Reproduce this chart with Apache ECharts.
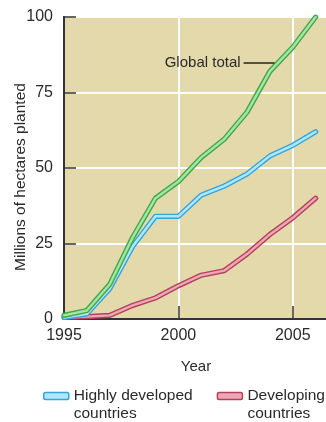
<!DOCTYPE html>
<html>
<head>
<meta charset="utf-8">
<script src="https://cdn.jsdelivr.net/npm/echarts@6/dist/echarts.min.js"></script>
<style>
html,body{margin:0;padding:0;background:#fff;}
#chart{width:326px;height:422px;}
</style>
</head>
<body>
<div id="chart"></div>
<script>
// ---- data ----
var years = [1995, 1996, 1997, 1998, 1999, 2000, 2001, 2002, 2003, 2004, 2005, 2006];
var globalTotal = [1.2, 2.8, 11.5, 27, 40, 45.5, 53.5, 59.5, 68.5, 82, 90, 100];
var developed = [0.5, 1.7, 10, 24, 34, 34, 41, 44, 48, 54, 57.5, 62];
var developing = [0.5, 0.8, 1.2, 4.5, 7, 11, 14.5, 16, 21.5, 28, 33.5, 40];
var yTicks = [0, 25, 50, 75, 100];
var xTicks = [1995, 2000, 2005];
var seriesNames = ['Global total', 'Highly developed\ncountries', 'Developing\ncountries'];
var yTitle = 'Millions of hectares planted';
var annotationLine = [[2002.85, 84.7], [2004.2, 84.7]];

function pairs(vals) { return years.map(function (y, i) { return [y, vals[i]]; }); }

var FONT = '"Liberation Sans", Arial, Helvetica, sans-serif';
var TXT = '#2a2a2a';
var C = {
  green: { out: '#43a64a', inn: '#a3e6a3' },
  blue: { out: '#35a5db', inn: '#b0e8fb' },
  red: { out: '#b63f5b', inn: '#eca8b7' }
};

function pairSeries(name, vals, col, extra) {
  var base = {
    type: 'line', data: pairs(vals), showSymbol: false, symbol: 'none',
    smooth: false, silent: true, animation: false
  };
  var outer = Object.assign({}, base, {
    name: name + ' outline',
    lineStyle: { color: col.out, width: 5.2, cap: 'round', join: 'round' },
    itemStyle: { color: col.out }
  });
  var inner = Object.assign({}, base, {
    name: name,
    lineStyle: { color: col.inn, width: 2.4, cap: 'round', join: 'round' },
    itemStyle: { color: col.inn, borderColor: col.out, borderWidth: 1.5 }
  }, extra || {});
  return [outer, inner];
}

var chart = echarts.init(document.getElementById('chart'), null, { renderer: 'canvas' });

var series = [].concat(
  pairSeries(seriesNames[2], developing, C.red),
  pairSeries(seriesNames[1], developed, C.blue),
  pairSeries(seriesNames[0], globalTotal, C.green, {
    markLine: {
      silent: true, symbol: 'none', animation: false,
      lineStyle: { color: '#222', width: 1.5, type: 'solid' },
      label: {
        show: true, position: 'start', formatter: seriesNames[0],
        color: TXT, fontSize: 15, fontFamily: FONT, distance: 3
      },
      data: [[{ coord: annotationLine[0] }, { coord: annotationLine[1] }]]
    }
  })
);

chart.setOption({
  animation: false,
  backgroundColor: '#ffffff',
  textStyle: { fontFamily: FONT },
  grid: {
    left: 64, right: -2, top: 17, bottom: 103,
    outerBoundsMode: 'none', containLabel: false,
    show: true, backgroundColor: '#e3d9aa', borderColor: '#4a4a4a', borderWidth: 2
  },
  xAxis: {
    type: 'value', min: 1995, max: 2006.54, interval: 5,
    name: 'Year', nameLocation: 'middle', nameGap: 40, nameMoveOverlap: false,
    nameTextStyle: { color: TXT, fontSize: 15, fontFamily: FONT },
    axisLine: { show: true, lineStyle: { color: '#333', width: 2 } },
    axisTick: { show: true, inside: true, length: 13, lineStyle: { color: '#333', width: 1.5 } },
    splitLine: { show: true, lineStyle: { color: '#ffffff', width: 2 } },
    axisLabel: {
      color: TXT, fontSize: 16, fontFamily: FONT, margin: 9,
      showMaxLabel: false,
      formatter: function (v) { return xTicks.indexOf(v) >= 0 ? String(v) : ''; }
    }
  },
  yAxis: {
    type: 'value', min: 0, max: 100, interval: 25,
    name: yTitle, nameLocation: 'middle', nameGap: 35, nameMoveOverlap: false,
    nameTextStyle: { color: TXT, fontSize: 15.5, fontFamily: FONT, padding: [0, 18, 0, 0] },
    axisLine: { show: true, lineStyle: { color: '#333', width: 2 } },
    axisTick: { show: true, inside: true, length: 12, lineStyle: { color: '#333', width: 1.5 } },
    splitLine: { show: true, lineStyle: { color: '#ffffff', width: 2 } },
    axisLabel: {
      color: TXT, fontSize: 16, fontFamily: FONT, margin: 11,
      formatter: function (v) { return yTicks.indexOf(v) >= 0 ? String(v) : ''; }
    }
  },
  legend: {
    show: true, left: 43, top: 369, padding: 0, itemGap: 24,
    itemWidth: 25, itemHeight: 7, selectedMode: false,
    formatter: function (name) { return ' \n' + name; },
    textStyle: { color: TXT, fontSize: 15.5, fontFamily: FONT, lineHeight: 18 },
    data: [
      { name: seriesNames[1], icon: 'roundRect', itemStyle: { color: C.blue.inn, borderColor: C.blue.out, borderWidth: 1.5 } },
      { name: seriesNames[2], icon: 'roundRect', itemStyle: { color: C.red.inn, borderColor: C.red.out, borderWidth: 1.5 } }
    ]
  },
  series: series
});
</script>
</body>
</html>
